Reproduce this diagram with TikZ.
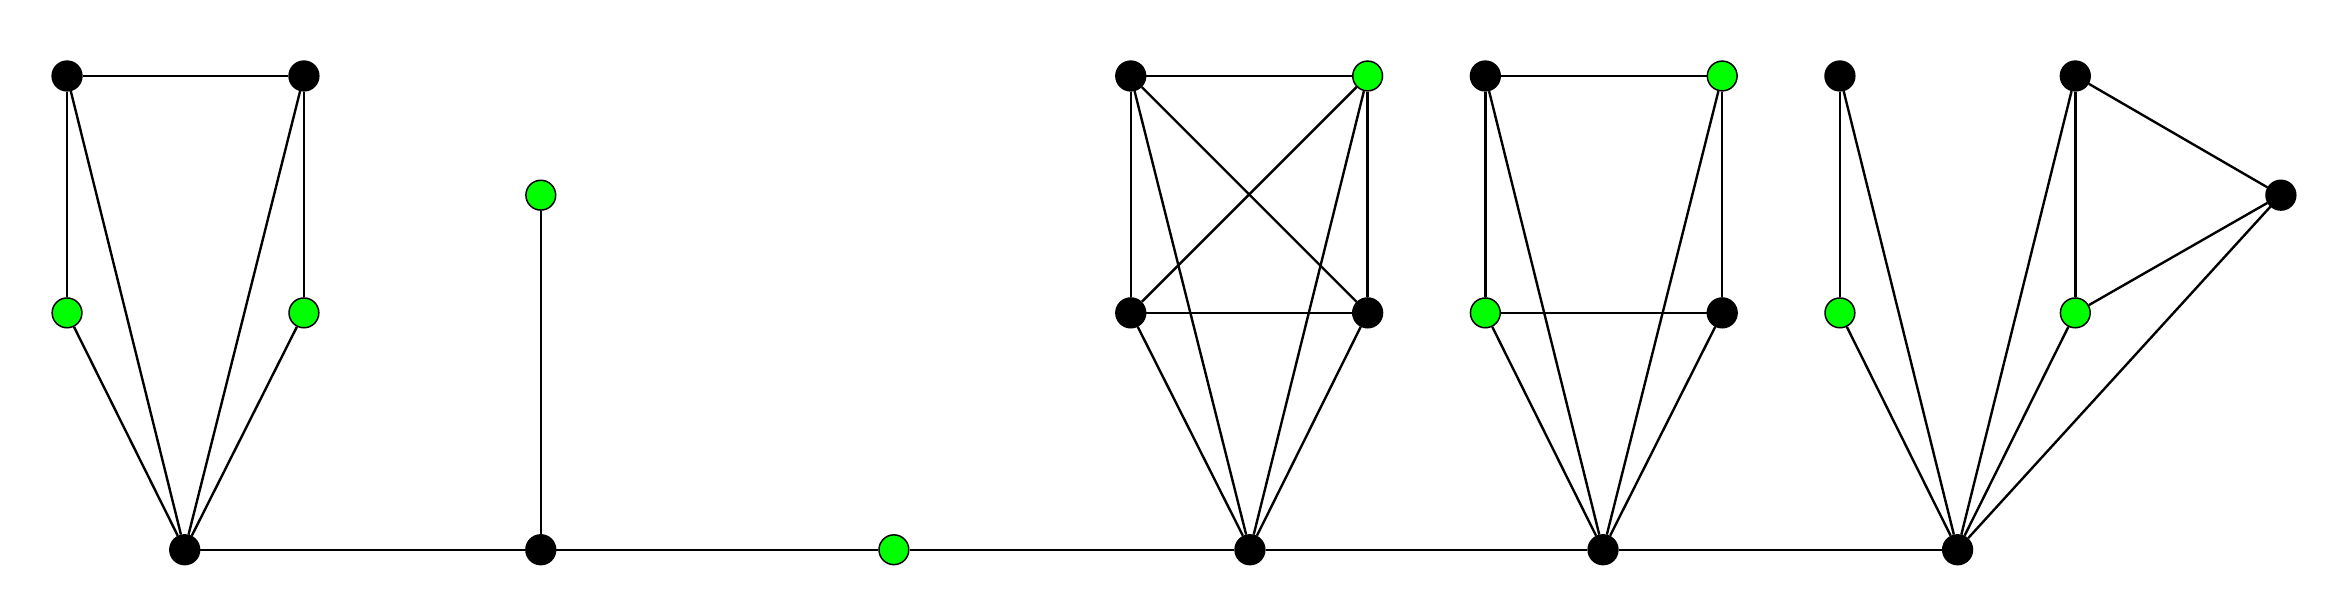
\documentclass[tikz,border=0pt]{standalone}
\begin{document}
\begin{tikzpicture}[x=1pt,y=-1pt,
  blk/.style={circle,draw=black,fill=black,line width=1pt,minimum size=20pt,inner sep=0pt},
  grn/.style={circle,draw=black,fill=green,line width=1pt,minimum size=20pt,inner sep=0pt},
  edge/.style={line width=1.6pt}]
\useasboundingbox (0,0) rectangle (1568,408);
\node[blk] (a1) at (45,51) {}; \node[blk] (a2) at (204,51) {};
\node[grn] (a3) at (45,210) {}; \node[grn] (a4) at (204,210) {};
\node[blk] (a5) at (124,369) {};
\node[grn] (b1) at (363,131) {}; \node[blk] (b2) at (363,369) {};
\node[grn] (c) at (600,369) {};
\node[blk] (k1) at (759,51) {}; \node[grn] (k2) at (918,51) {};
\node[blk] (k3) at (759,210) {}; \node[blk] (k4) at (918,210) {};
\node[blk] (k5) at (839,369) {};
\node[blk] (d1) at (997,51) {}; \node[grn] (d2) at (1156,51) {};
\node[grn] (d3) at (997,210) {}; \node[blk] (d4) at (1156,210) {};
\node[blk] (d5) at (1076,369) {};
\node[blk] (e1) at (1235,51) {}; \node[grn] (e2) at (1235,210) {};
\node[blk] (e3) at (1393,51) {}; \node[grn] (e4) at (1393,210) {};
\node[blk] (e5) at (1531,131) {}; \node[blk] (e6) at (1314,369) {};
\foreach \u/\v in {a1/a2,a1/a3,a1/a5,a2/a5,a2/a4,a3/a5,a4/a5,b1/b2,
  k1/k2,k1/k3,k1/k4,k1/k5,k2/k3,k2/k4,k2/k5,k3/k4,k3/k5,k4/k5,
  d1/d2,d1/d3,d1/d5,d2/d5,d2/d4,d3/d4,d3/d5,d4/d5,
  e1/e2,e1/e6,e2/e6,e3/e6,e3/e4,e3/e5,e4/e5,e4/e6,e5/e6,
  a5/b2,b2/c,c/k5,k5/d5,d5/e6}
  \draw[edge] (\u) -- (\v);
\end{tikzpicture}
\end{document}
